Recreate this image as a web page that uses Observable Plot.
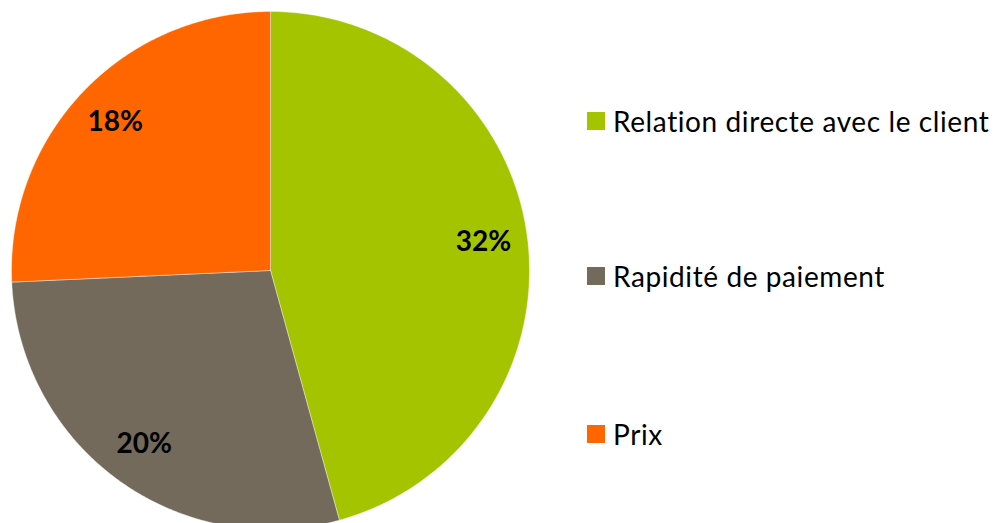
<!DOCTYPE html>
<html><head><meta charset="utf-8">
<script src="https://cdn.jsdelivr.net/npm/d3@7"></script>
<script src="https://cdn.jsdelivr.net/npm/@observablehq/plot@0.6"></script>
<style>
body{margin:0;background:#fff;}
#wrap{position:relative;width:997px;height:523px;overflow:hidden;}
#legend{position:absolute;left:587px;top:0;font-family:Lato,"Open Sans",sans-serif;font-size:28px;letter-spacing:0.6px;color:#000;}
.item{position:absolute;left:0;display:flex;align-items:center;white-space:nowrap;height:30px;}
.sw{width:18px;height:18px;margin-right:8px;flex:none;}
</style></head>
<body><div id="wrap"><div id="chart"></div><div id="legend"></div></div>
<script>
const categories = ["Relation directe avec le client", "Rapidité de paiement", "Prix"];
const values = [32, 20, 18];
const labels = ["32%", "20%", "18%"];
const colors = ["#A5C400", "#736A5B", "#FF6600"];

const pie = d3.pie().sort(null).value(d => d.value)(categories.map((c, i) => ({cat: c, value: values[i], label: labels[i]})));
const poly = [];
const N = 200;
pie.forEach(a => {
  poly.push({cat: a.data.cat, x: 0, y: 0});
  for (let k = 0; k <= N; k++) {
    const t = a.startAngle + (a.endAngle - a.startAngle) * k / N;
    poly.push({cat: a.data.cat, x: Math.sin(t), y: Math.cos(t)});
  }
  poly.push({cat: a.data.cat, x: 0, y: 0});
});
const lab = pie.map(a => {
  const m = (a.startAngle + a.endAngle) / 2;
  return {label: a.data.label, x: 0.83 * Math.sin(m), y: 0.83 * Math.cos(m)};
});

const chart = Plot.plot({
  width: 997, height: 523,
  x: {domain: [-1, 1], range: [11, 529], axis: null},
  y: {domain: [-1, 1], range: [529, 11], axis: null},
  color: {domain: categories, range: colors},
  marks: [
    Plot.line(poly, {x: "x", y: "y", z: "cat", fill: "cat", stroke: "#ffffff", strokeOpacity: 0.4, strokeWidth: 1, curve: "linear"}),
    Plot.text(lab, {x: "x", y: "y", text: "label", fontSize: 28, fontWeight: "bold", fill: "#000", fontFamily: "Lato, 'Open Sans', sans-serif"})
  ],
  style: {background: "transparent"}
});
document.getElementById("chart").appendChild(chart);

const tops = [121, 276, 434];
const leg = document.getElementById("legend");
categories.forEach((c, i) => {
  const d = document.createElement("div");
  d.className = "item";
  d.style.top = (tops[i] - 15) + "px";
  d.innerHTML = `<span class="sw" style="background:${colors[i]}"></span><span>${c}</span>`;
  leg.appendChild(d);
});
</script></body></html>
